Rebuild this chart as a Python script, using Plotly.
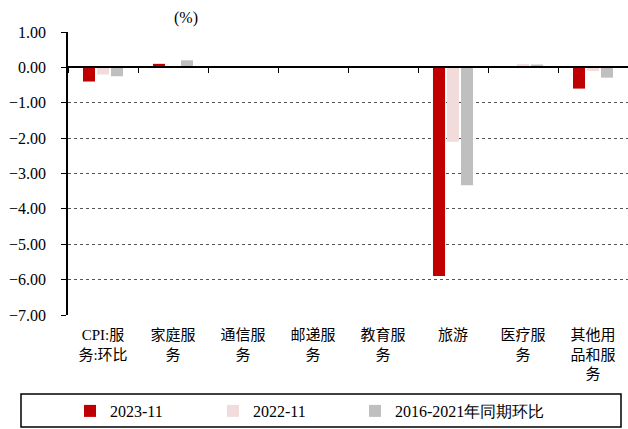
import plotly.graph_objects as go

categories = ["CPI:服<br>务:环比", "家庭服<br>务", "通信服<br>务", "邮递服<br>务",
              "教育服<br>务", "旅游", "医疗服<br>务", "其他用<br>品和服<br>务"]
series_names = ["2023-11", "2022-11", "2016-2021年同期环比"]
v2023 = [-0.40, 0.10, 0.00, 0.00, 0.00, -5.90, 0.00, -0.60]
v2022 = [-0.20, 0.00, 0.00, 0.00, 0.00, -2.10, 0.09, -0.10]
vhist = [-0.25, 0.20, 0.00, 0.03, 0.00, -3.33, 0.08, -0.29]
colors = ["#C00000", "#F2DCDB", "#BFBFBF"]
y_ticks = [1, 0, -1, -2, -3, -4, -5, -6, -7]

W, H = 628, 429
L, R, T, B = 68, 0, 32, 114
pw, ph = W - L - R, H - T - B

def px_x(x):
    return (x - L) / pw

def px_y(y):
    return (H - B - y) / ph

serif = "Times New Roman, Liberation Serif, DejaVu Serif, serif"
cjk = "Liberation Serif, Noto Sans CJK SC"

legend_ids = ["legend", "legend2", "legend3"]
legend_px = [70, 213, 355]

fig = go.Figure()
for name, vals, c, lid in zip(series_names, [v2023, v2022, vhist], colors, legend_ids):
    fig.add_trace(go.Bar(x=categories, y=vals, name=name, marker_color=c,
                         marker_line_width=0, legend=lid))

legend_common = dict(orientation="h", xanchor="left", y=px_y(411), yanchor="middle",
                     font=dict(family=serif, size=16, color="black"),
                     bgcolor="rgba(0,0,0,0)", borderwidth=0, itemclick=False)
legends = {lid: dict(x=px_x(xp), **legend_common) for lid, xp in zip(legend_ids, legend_px)}

fig.update_layout(
    width=W, height=H,
    margin=dict(l=L, r=R, t=T, b=B, pad=0),
    paper_bgcolor="white", plot_bgcolor="white",
    barmode="group", bargap=0.4, bargroupgap=0.14,
    font=dict(family=serif, size=16, color="black"),
    showlegend=True,
    **legends,
    xaxis=dict(type="category", anchor="free", position=7/8,
               showline=True, linecolor="black", linewidth=1.5,
               ticks="outside", tickson="boundaries", ticklen=5,
               tickcolor="black", tickwidth=1,
               showgrid=False, ticklabelstandoff=254,
               tickfont=dict(family=cjk, size=15, color="black"),
               tickangle=0),
    yaxis=dict(range=[-7, 1], tickvals=y_ticks, tickformat=".2f",
               showline=True, linecolor="black", linewidth=1.5,
               ticks="outside", ticklen=5, tickcolor="black",
               showgrid=True, gridcolor="#555555", griddash="dot",
               gridwidth=1, zeroline=False, ticklabelstandoff=12,
               tickfont=dict(family=serif, size=16, color="black")),
    shapes=[dict(type="rect", xref="paper", yref="paper",
                 x0=px_x(21), x1=px_x(621), y0=px_y(394), y1=px_y(427),
                 line=dict(color="black", width=1.5), fillcolor="rgba(0,0,0,0)")],
    annotations=[dict(text="(%)", xref="paper", yref="paper",
                      x=px_x(186), y=px_y(18), xanchor="center", yanchor="middle",
                      showarrow=False,
                      font=dict(family=serif, size=16, color="black"))],
)

fig.write_html("out.html")
